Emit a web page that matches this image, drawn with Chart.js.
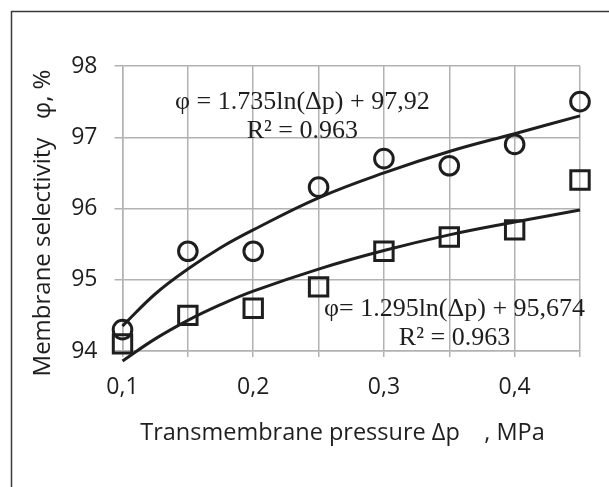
<!DOCTYPE html>
<html>
<head>
<meta charset="utf-8">
<script src="https://cdn.jsdelivr.net/npm/chart.js@4.4.1/dist/chart.umd.min.js"></script>
<style>
  html, body { margin: 0; padding: 0; background: #fff; }
  #wrap { width: 609px; height: 487px; position: relative; }
</style>
</head>
<body>
<div id="wrap"><canvas id="selectivityChart" width="609" height="487"></canvas></div>
<script>
// pressure values, MPa
const pressure = [0.1, 0.15, 0.2, 0.25, 0.3, 0.35, 0.4, 0.45];
// measured selectivity, %
const circleSeries = [94.3, 95.4, 95.4, 96.3, 96.7, 96.6, 96.9, 97.5];
const squareSeries = [94.1, 94.5, 94.6, 94.9, 95.4, 95.6, 95.7, 96.4];
// trend curves
const trendX = [0.1, 0.125, 0.15, 0.175, 0.2, 0.25, 0.3, 0.35, 0.4, 0.45];
const circleTrend = [94.35, 94.8, 95.15, 95.45, 95.7, 96.15, 96.5, 96.8, 97.05, 97.3];
const squareTrend = [93.86, 94.17, 94.43, 94.65, 94.84, 95.15, 95.41, 95.63, 95.81, 95.98];
// axis ticks
const xTickLabels = [0.1, 0.2, 0.3, 0.4];
const yTicks = [94, 95, 96, 97, 98];

const equations = [
  { lines: ["\u03c6 = 1.735ln(\u0394p) + 97,92", "R\u00b2 = 0.963"], x: 0.2376, y: [97.49, 97.08] },
  { lines: ["\u03c6= 1.295ln(\u0394p) + 95,674", "R\u00b2 = 0.963"], x: 0.354, y: [94.59, 94.18] }
];

const ink = "#1e1e1e";
const gridGray = "#b2b2b2";
const sans = "'Open Sans', sans-serif";

const toPts = (xs, ys) => xs.map((x, i) => ({ x: x, y: ys[i] }));

const framePlugin = {
  id: "frame",
  beforeDraw(chart) {
    const ctx = chart.ctx;
    ctx.save();
    ctx.fillStyle = "#fff";
    ctx.fillRect(0, 0, chart.width, chart.height);
    ctx.strokeStyle = "#3a3a3a";
    ctx.lineWidth = 1.5;
    ctx.strokeRect(11.5, 11.5, 700, 600);
    ctx.restore();
  },
  afterDatasetsDraw(chart) {
    const ctx = chart.ctx;
    const xs = chart.scales.x, ys = chart.scales.y;
    const area = chart.chartArea;
    ctx.save();
    ctx.fillStyle = ink;
    ctx.textAlign = "center";
    ctx.textBaseline = "middle";

    // trend line equations
    ctx.font = "26px 'Liberation Serif', 'Times New Roman', serif";
    equations.forEach((eq) => {
      eq.lines.forEach((t, i) => {
        ctx.fillText(t, xs.getPixelForValue(eq.x), ys.getPixelForValue(eq.y[i]));
      });
    });

    // axis titles
    ctx.font = "23.5px " + sans;
    ctx.fillText("Transmembrane pressure \u0394p    , MPa", area.left + 220, area.bottom + 82);

    ctx.font = "24px " + sans;
    ctx.translate(43, area.top + 157);
    ctx.rotate(-Math.PI / 2);
    ctx.fillText("Membrane selectivity   \u03c6, %", 0, 0);
    ctx.restore();
  }
};

const markerStyle = {
  pointBorderWidth: 3,
  pointBorderColor: ink,
  pointBackgroundColor: "rgba(0,0,0,0)",
  showLine: false,
  clip: false
};

const trendStyle = {
  showLine: true,
  pointRadius: 0,
  borderColor: ink,
  borderWidth: 3,
  tension: 0.4,
  clip: false
};

new Chart(document.getElementById("selectivityChart"), {
  type: "scatter",
  data: {
    datasets: [
      Object.assign({ data: toPts(pressure, circleSeries), pointStyle: "circle", pointRadius: 9.3 }, markerStyle),
      Object.assign({ data: toPts(pressure, squareSeries), pointStyle: "rect", pointRadius: 13 }, markerStyle),
      Object.assign({ data: toPts(trendX, circleTrend) }, trendStyle),
      Object.assign({ data: toPts(trendX, squareTrend) }, trendStyle)
    ]
  },
  options: {
    responsive: false,
    animation: false,
    layout: { padding: { left: 20, right: 29, top: 66, bottom: 0 } },
    plugins: { legend: { display: false }, tooltip: { enabled: false } },
    scales: {
      x: {
        type: "linear",
        min: 0.1,
        max: 0.45,
        afterBuildTicks(scale) {
          scale.ticks = pressure.map((v) => ({ value: v }));
        },
        afterFit(scale) { scale.height = 136; },
        grid: { color: gridGray, lineWidth: 1.5, tickLength: 6 },
        border: { color: gridGray, width: 1.5 },
        ticks: {
          color: ink,
          font: { family: sans, size: 23 },
          padding: 17,
          maxRotation: 0,
          autoSkip: false,
          callback(v) {
            const hit = xTickLabels.find((t) => Math.abs(t - v) < 1e-6);
            return hit === undefined ? "" : hit.toFixed(1).replace(".", ",");
          }
        }
      },
      y: {
        min: 94,
        max: 98,
        afterBuildTicks(scale) {
          scale.ticks = yTicks.map((v) => ({ value: v }));
        },
        afterFit(scale) { scale.width = 102.5; },
        grid: { color: gridGray, lineWidth: 1.5, tickLength: 8 },
        border: { color: gridGray, width: 1.5 },
        ticks: {
          color: ink,
          font: { family: sans, size: 23 },
          padding: 17
        }
      }
    }
  },
  plugins: [framePlugin]
});
</script>
</body>
</html>
